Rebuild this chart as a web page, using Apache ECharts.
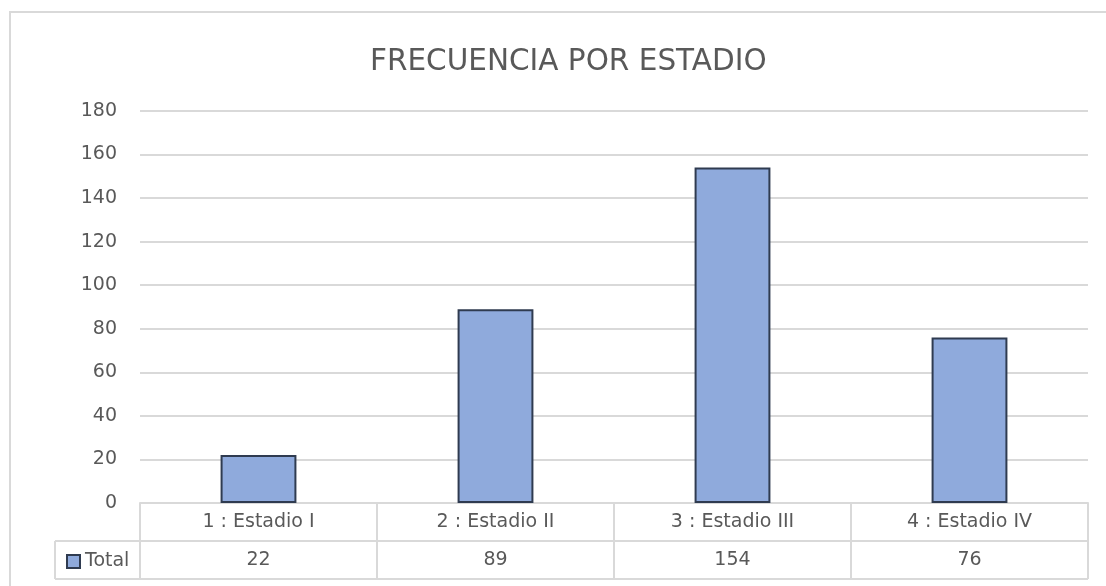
<!DOCTYPE html>
<html>
<head>
<meta charset="utf-8">
<script src="https://cdn.jsdelivr.net/npm/echarts@6/dist/echarts.min.js"></script>
<style>
  html, body { margin: 0; padding: 0; background: #ffffff; }
  #chart { width: 1106px; height: 586px; }
</style>
</head>
<body>
<div id="chart"></div>
<script>
// Frequency of cases by stage
const categories = ['1 : Estadio I', '2 : Estadio II', '3 : Estadio III', '4 : Estadio IV'];
const totals = [22, 89, 154, 76];
const seriesName = 'Total';
const yTicks = { min: 0, max: 180, interval: 20 };

const FONT = 'DejaVu Sans';
const TEXT = '#595959';
const RULE = '#D9D9D9';

// plot area
const G = { left: 140, right: 18, top: 111, bottom: 83 };
const W = 1106, H = 586;
const plotRight = W - G.right;
const axisY = H - G.bottom;       // table top edge
const rowH = 38;                  // height of each table row
const tableLeft = 55;             // left edge of legend cell

const chart = echarts.init(document.getElementById('chart'), null, { renderer: 'canvas' });

chart.setOption({
  animation: false,
  backgroundColor: '#ffffff',
  title: {
    text: 'FRECUENCIA POR ESTADIO',
    left: 365, top: 42,
    textStyle: { fontFamily: FONT, fontSize: 29.5, fontWeight: 'normal', color: TEXT }
  },
  legend: {
    left: 61, top: axisY + rowH + 6,
    itemWidth: 13, itemHeight: 13, itemGap: 6,
    icon: 'rect',
    data: [seriesName],
    textStyle: { fontFamily: FONT, fontSize: 19, color: TEXT, padding: [0, 0, 0, 0] }
  },
  grid: { left: G.left, right: G.right, top: G.top, bottom: G.bottom, containLabel: false },
  xAxis: {
    type: 'category',
    data: categories,
    boundaryGap: true,
    axisLine: { show: true, lineStyle: { color: RULE, width: 2 } },
    axisTick: { show: true, length: rowH * 2, lineStyle: { color: RULE, width: 2 } },
    axisLabel: {
      margin: 0,
      interval: 0,
      formatter: (v, i) => '{c|' + v + '}\n{v|' + totals[i] + '}',
      rich: {
        c: { fontFamily: FONT, fontSize: 19, color: TEXT, lineHeight: rowH, height: rowH },
        v: { fontFamily: FONT, fontSize: 19, color: TEXT, lineHeight: rowH, height: rowH }
      }
    }
  },
  yAxis: {
    type: 'value',
    min: yTicks.min, max: yTicks.max, interval: yTicks.interval,
    axisLine: { show: false },
    axisTick: { show: false },
    axisLabel: { margin: 23, fontFamily: FONT, fontSize: 19, color: TEXT },
    splitLine: { lineStyle: { color: RULE, width: 2 } }
  },
  series: [{
    name: seriesName,
    type: 'bar',
    data: totals,
    barWidth: '32%',
    itemStyle: { color: '#8FAADC', borderColor: '#2F3B50', borderWidth: 2 }
  }],
  graphic: [
    // outer chart frame
    { type: 'rect', silent: true, z: -1,
      shape: { x: 10, y: 12, width: W + 20, height: H + 20 },
      style: { fill: null, stroke: RULE, lineWidth: 2 } },
    // data table row lines
    { type: 'line', silent: true,
      shape: { x1: tableLeft, y1: axisY + rowH, x2: plotRight, y2: axisY + rowH },
      style: { stroke: RULE, lineWidth: 2 } },
    { type: 'line', silent: true,
      shape: { x1: tableLeft, y1: axisY + rowH * 2, x2: plotRight, y2: axisY + rowH * 2 },
      style: { stroke: RULE, lineWidth: 2 } },
    { type: 'line', silent: true,
      shape: { x1: tableLeft, y1: axisY + rowH, x2: tableLeft, y2: axisY + rowH * 2 },
      style: { stroke: RULE, lineWidth: 2 } }
  ]
});
</script>
</body>
</html>
